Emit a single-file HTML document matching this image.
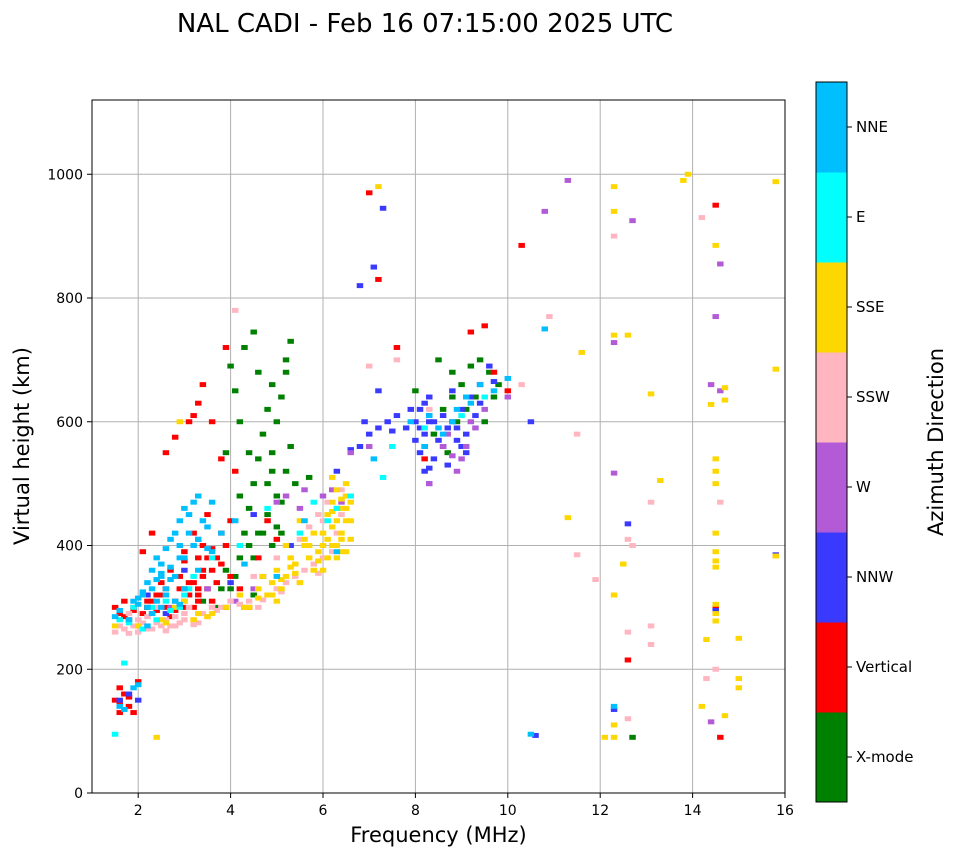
<!DOCTYPE html>
<html><head><meta charset="utf-8"><style>
body{margin:0;background:#fff;font-family:"DejaVu Sans","Liberation Sans",sans-serif}
svg{display:block}
</style></head><body>
<svg id="chart" width="958" height="857" xmlns="http://www.w3.org/2000/svg" font-family="DejaVu Sans, Liberation Sans, sans-serif">
<text x="425" y="32" font-size="26" text-anchor="middle">NAL CADI - Feb 16 07:15:00 2025 UTC</text>
<g id="grid"></g><g id="marks"></g><g id="axes"></g><g id="cbar"></g>
</svg>
<script>
const xTicks=[2,4,6,8,10,12,14,16];
const yTicks=[0,200,400,600,800,1000];
const dirNames=["X-mode","Vertical","NNW","W","SSW","SSE","E","NNE"];
const dirColors=["#008000","#ff0000","#3a3aff","#b35ad7","#ffb6c1","#ffd700","#00ffff","#00bfff"];
const nneF=[1.6,1.7,1.9,2.0,2.1,2.2,2.3,2.4,2.5,2.6,2.7,2.8,2.9,3.0,3.1,3.2,3.3,2.2,2.4,2.6,2.8,3.0,3.2,3.5,3.8,4.1,2.5,2.7,2.9,3.3,3.6,1.6,1.8,2.0,2.3,2.6,2.9,3.6,4.3,5.0,5.6,6.3,7.1,7.9,8.3,8.6,8.9,9.1,9.4,9.7,10.0,10.5,10.8,12.3,1.5,2.2,2.5,2.8,3.0,2.0,2.3,2.5,2.7,2.9,3.1,3.4,1.9,2.1,2.4,3.3,3.5,8.2,8.5,8.8,9.2];
const nneH=[140,135,170,175,320,340,360,380,370,395,410,420,440,460,450,470,480,300,310,330,350,380,400,430,420,440,350,365,380,410,470,295,280,305,290,320,305,390,370,350,440,390,540,600,610,580,620,640,660,650,670,95,750,140,285,270,300,310,330,315,330,355,345,400,420,440,310,325,345,360,395,560,590,600,630];
const vertF=[1.5,1.6,1.7,1.8,1.9,2.0,2.1,2.2,2.3,2.4,2.5,2.6,2.7,2.8,2.9,3.0,3.1,3.2,3.3,3.4,3.5,3.6,3.7,3.8,3.9,4.0,3.3,3.0,2.7,2.5,2.3,2.1,3.2,3.5,3.8,4.1,3.6,3.3,3.4,3.9,3.1,3.2,2.6,2.8,1.5,1.6,1.7,1.8,1.9,2.0,1.6,3.3,3.6,3.9,4.2,4.4,4.6,5.0,4.8,9.5,7.0,7.2,10.3,12.6,14.5,14.6,14.5,10.0,9.7,8.2,9.2,7.6,2.4,2.6,2.9,3.1,3.4,3.5,3.7,3.2,2.8,3.0,1.7,1.9,2.2,3.6,3.8,4.0,3.4,3.3,1.6,1.8];
const vertH=[300,290,310,280,300,270,290,300,310,295,320,300,285,310,330,300,320,340,310,350,330,360,380,370,400,350,380,390,360,340,420,390,420,450,540,520,600,630,660,720,600,610,550,575,150,130,160,140,130,180,170,320,310,300,330,300,380,410,440,755,970,830,885,215,950,90,300,650,680,540,745,720,320,330,350,340,360,380,340,300,295,375,285,295,310,395,420,440,400,330,145,155];
const nnwF=[1.6,1.8,2.0,2.2,2.6,3.0,3.3,4.0,4.5,5.3,6.3,6.6,6.8,7.0,7.2,7.4,7.6,7.8,8.0,8.1,8.2,8.3,8.0,8.2,8.4,8.6,8.7,8.8,9.0,9.2,9.4,9.6,8.5,8.9,9.1,8.3,7.3,7.1,6.8,7.2,6.9,7.5,9.7,12.6,15.8,14.5,12.3,10.6,10.5,8.8,9.3,8.1,8.4,8.2,8.2,8.3,8.3,8.9,9.0,8.7,8.6,9.1,9.4,7.9,8.1,8.3];
const nnwH=[150,160,150,320,290,360,410,340,450,400,520,555,560,580,590,600,610,590,600,620,630,610,570,520,540,560,590,600,620,640,660,690,570,570,580,500,945,850,820,650,600,585,665,435,385,295,135,93,600,650,610,590,600,560,580,600,640,590,560,530,610,550,630,620,550,525];
const wF=[2.3,2.7,3.0,3.5,4.1,4.5,5.0,5.2,5.5,6.0,6.2,6.6,7.0,8.9,8.6,9.0,9.2,10.0,11.3,10.8,12.7,14.6,14.5,14.4,14.6,12.3,12.3,14.4,8.3,9.5,8.8,9.1,8.7,9.3,5.6,6.4];
const wH=[290,300,310,330,310,330,470,480,460,480,490,550,560,520,560,540,600,640,990,940,925,855,770,660,650,728,517,115,500,620,545,560,580,590,490,470];
const sswF=[1.5,1.7,1.9,2.0,2.1,2.3,2.5,2.6,2.7,2.8,2.9,3.0,3.2,3.4,3.6,3.8,4.0,4.2,4.4,4.6,4.8,5.0,5.2,5.4,5.6,5.8,6.0,6.2,6.3,6.4,6.5,6.1,5.9,5.7,5.5,5.0,4.5,2.2,2.4,1.8,3.1,3.3,4.1,7.0,7.6,8.3,10.3,10.9,11.5,12.3,11.9,11.5,12.6,12.7,12.6,13.1,13.1,13.1,14.2,14.3,14.5,14.6,12.6,1.6,1.8,2.0,2.2,2.4,2.6,2.8,3.0,3.2,3.5,3.7,4.3,4.7,5.1,5.5,5.9,6.2,6.5,6.4,6.0];
const sswH=[260,265,270,260,275,265,270,280,270,285,275,290,280,290,300,300,310,305,310,300,320,330,340,350,360,370,380,390,420,450,480,470,450,430,410,380,350,285,300,290,300,275,780,690,700,620,660,770,580,900,345,385,410,400,260,470,270,240,930,185,200,470,120,270,258,280,265,275,262,270,280,272,285,295,300,312,325,340,355,400,460,490,440];
const sseF=[1.5,2.0,2.5,2.8,3.0,3.3,3.6,3.9,4.2,4.4,4.6,4.8,4.9,5.0,5.1,5.2,5.3,5.4,5.5,5.6,5.7,5.8,5.9,6.0,6.1,6.2,6.3,6.4,6.5,6.6,6.1,6.2,6.4,6.5,6.3,6.6,6.0,6.5,6.2,5.8,5.5,5.2,5.0,4.7,2.4,2.9,7.2,11.6,11.3,12.3,12.3,12.6,12.3,13.1,13.3,13.9,13.8,15.8,15.8,15.8,14.5,14.5,14.5,14.5,14.5,14.5,14.5,14.5,14.5,14.5,14.5,14.7,14.7,14.3,14.2,14.7,15.0,15.0,15.0,12.3,12.3,12.3,12.1,12.5,14.4,6.3,6.4,6.5,6.3,6.2,6.4,6.5,6.3,6.1,6.4,6.6,6.2,6.0,5.9,5.7,5.6,5.4,5.3,5.1,4.9,4.6,4.3,3.5,3.2,2.6];
const sseH=[270,270,280,300,310,290,290,300,320,300,330,320,340,360,330,350,380,370,340,400,380,360,390,420,410,400,440,460,480,440,450,470,410,390,380,410,360,500,510,420,440,400,310,350,90,600,980,712,445,980,940,740,740,645,505,1000,990,988,685,383,885,540,520,500,420,390,375,365,305,290,278,655,635,248,140,125,250,185,170,320,110,90,90,370,628,400,420,440,460,430,390,460,490,380,475,470,455,400,375,400,410,355,365,345,320,315,300,285,280,275];
const eF=[1.5,1.6,1.9,2.1,2.4,2.7,3.0,3.2,3.6,4.2,4.8,5.5,5.8,6.1,6.3,6.6,7.3,7.5,8.2,9.0,9.5,1.7,2.6,2.3,2.9,3.1,1.8];
const eH=[95,280,300,265,280,295,320,350,380,400,460,420,470,440,460,480,510,560,590,610,640,210,310,300,300,330,275];
const xmF=[2.2,3.0,3.4,3.7,4.0,4.1,4.2,4.3,4.4,4.5,4.6,4.7,4.8,4.9,5.0,5.1,5.2,5.3,5.2,5.0,4.8,4.6,4.4,4.2,4.1,4.0,4.3,4.5,5.3,5.2,4.6,4.9,5.1,5.4,4.7,4.5,5.7,4.9,3.8,4.3,8.0,8.5,8.8,9.0,9.2,9.4,9.6,9.8,8.6,8.9,9.1,9.3,9.5,8.4,8.7,12.7,3.9,4.4,4.8,5.0,4.5,4.7,4.2,3.9,5.1,4.9,9.7,8.8];
const xmH=[300,330,310,300,330,350,380,420,460,500,540,580,620,660,600,640,700,560,520,480,450,420,400,600,650,690,720,745,730,680,680,550,470,500,350,320,510,400,330,300,650,700,640,660,690,700,680,660,620,600,620,640,600,580,550,90,550,550,500,430,380,420,480,360,420,520,640,680];
const seriesF=[xmF,vertF,nnwF,wF,sswF,sseF,eF,nneF];
const seriesH=[xmH,vertH,nnwH,wH,sswH,sseH,eH,nneH];

const NS="http://www.w3.org/2000/svg";
const L=92,R=785,T=100,B=793,xMin=1,xMax=16,yMin=0,yMax=1120;
const xs=v=>L+(v-xMin)/(xMax-xMin)*(R-L);
const ys=v=>B-(v-yMin)/(yMax-yMin)*(B-T);
function mk(tag,attrs,parent){const e=document.createElementNS(NS,tag);for(const k in attrs)e.setAttribute(k,attrs[k]);parent.appendChild(e);return e;}
const grid=document.getElementById('grid'),marks=document.getElementById('marks'),axes=document.getElementById('axes'),cbar=document.getElementById('cbar');
xTicks.forEach(t=>{const x=xs(t);
 const g=mk('line',{x1:x,x2:x,y1:T,y2:B,stroke:'#b0b0b0','stroke-width':1},grid);
 
 mk('line',{x1:x,x2:x,y1:B,y2:B+5,stroke:'#000'},axes);
 const tx=mk('text',{x:x,y:B+22,'font-size':14,'text-anchor':'middle'},axes);tx.textContent=t;
 });
yTicks.forEach(t=>{const y=ys(t);
 const g=mk('line',{x1:L,x2:R,y1:y,y2:y,stroke:'#b0b0b0','stroke-width':1},grid);
 
 mk('line',{x1:L-5,x2:L,y1:y,y2:y,stroke:'#000'},axes);
 const tx=mk('text',{x:L-9,y:y+5,'font-size':14,'text-anchor':'end'},axes);tx.textContent=t;
 });
seriesF.forEach((fs,i)=>{const hs=seriesH[i];fs.forEach((f,j)=>{
 const x0=xs(f-0.07),x1=xs(f+0.07),y0=ys(hs[j]+4),y1=ys(hs[j]-4);
 const r=mk('rect',{x:x0,y:y0,width:x1-x0,height:y1-y0,fill:dirColors[i]},marks);
 
 });});
const fr=mk('rect',{x:L,y:T,width:R-L,height:B-T,fill:'none',stroke:'#000','stroke-width':1},axes);

const xl=mk('text',{x:(L+R)/2,y:842,'font-size':21,'text-anchor':'middle'},axes);xl.textContent='Frequency (MHz)';

const yl=mk('text',{x:0,y:0,'font-size':21,'text-anchor':'middle',transform:'translate(29,446) rotate(-90)'},axes);yl.textContent='Virtual height (km)';

const CT=82,CB=802,CL=816,CW=31,seg=(CB-CT)/dirNames.length;
dirNames.forEach((n,i)=>{const y=CB-(i+1)*seg;
 const r=mk('rect',{x:CL,y:y,width:CW,height:seg+0.5,fill:dirColors[i]},cbar);
 
 mk('line',{x1:CL+CW,x2:CL+CW+5,y1:y+seg/2,y2:y+seg/2,stroke:'#000'},cbar);
 const t=mk('text',{x:CL+CW+9,y:y+seg/2+5,'font-size':15},cbar);t.textContent=n;
 });
const cf=mk('rect',{x:CL,y:CT,width:CW,height:CB-CT,fill:'none',stroke:'#000'},cbar);

const cl=mk('text',{x:0,y:0,'font-size':21,'text-anchor':'middle',transform:'translate(943,442) rotate(-90)'},cbar);cl.textContent='Azimuth Direction';

</script>
</body></html>
